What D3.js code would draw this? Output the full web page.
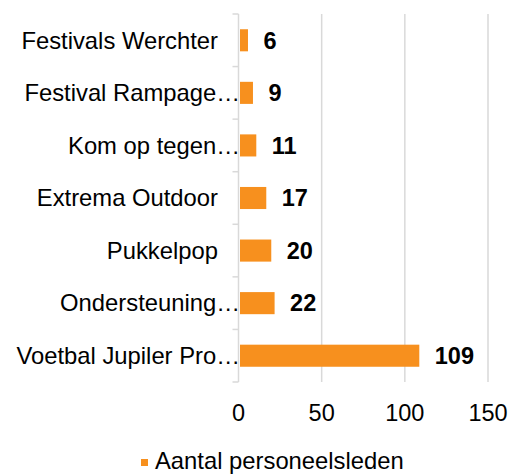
<!DOCTYPE html>
<html>
<head>
<meta charset="utf-8">
<script src="https://cdn.jsdelivr.net/npm/d3@7"></script>
<style>
  html, body { margin: 0; padding: 0; background: #fff; }
  text { font-family: "Liberation Sans", Arial, sans-serif; }
</style>
</head>
<body>
<script>
const categories = ["Festivals Werchter", "Festival Rampage…", "Kom op tegen…", "Extrema Outdoor", "Pukkelpop", "Ondersteuning…", "Voetbal Jupiler Pro…"];
const values = [6, 9, 11, 17, 20, 22, 109];
const xTicks = [0, 50, 100, 150];
const seriesName = "Aantal personeelsleden";

const W = 521, H = 475;
const color = "#F7901E";
const svg = d3.select("body").append("svg").attr("width", W).attr("height", H);

const x = d3.scaleLinear().domain([0, 150]).range([238.5, 488]);
const y = d3.scaleBand().domain(categories).range([14, 382]).paddingInner(0.58).paddingOuter(0.29);
const yb = d3.scaleBand().domain(categories).range([14, 382]);

// gridlines
svg.append("g").selectAll("line").data(xTicks.slice(1)).join("line")
  .attr("x1", d => x(d)).attr("x2", d => x(d))
  .attr("y1", 14).attr("y2", 382)
  .attr("stroke", "#d9d9d9").attr("stroke-width", 1.5);

// y axis line + ticks
svg.append("line").attr("x1", x(0)).attr("x2", x(0)).attr("y1", 14).attr("y2", 382)
  .attr("stroke", "#d9d9d9").attr("stroke-width", 1.5);
const bounds = categories.map(c => yb(c)).concat([382]);
svg.append("g").selectAll("line").data(bounds).join("line")
  .attr("x1", x(0) - 6).attr("x2", x(0))
  .attr("y1", d => d).attr("y2", d => d)
  .attr("stroke", "#d9d9d9").attr("stroke-width", 1.5);

// bars
svg.append("g").selectAll("rect").data(values).join("rect")
  .attr("x", x(0) + 1.5)
  .attr("y", (d, i) => y(categories[i]))
  .attr("width", d => Math.max(0, x(d) - x(0) - 2))
  .attr("height", y.bandwidth())
  .attr("fill", color);

// value labels
svg.append("g").selectAll("text").data(values).join("text")
  .attr("x", d => x(d) + 15)
  .attr("y", (d, i) => yb(categories[i]) + yb.bandwidth() / 2)
  .attr("dy", "0.35em")
  .attr("font-size", 23.5).attr("font-weight", "bold").attr("fill", "#000")
  .text(d => d);

// category labels
svg.append("g").selectAll("text").data(categories).join("text")
  .attr("x", d => d.endsWith("…") ? 240 : 218)
  .attr("y", d => yb(d) + yb.bandwidth() / 2)
  .attr("dy", "0.35em")
  .attr("text-anchor", "end")
  .attr("font-size", 23.8).attr("fill", "#000")
  .text(d => d);

// x tick labels
svg.append("g").selectAll("text").data(xTicks).join("text")
  .attr("x", d => x(d))
  .attr("y", 413)
  .attr("dy", "0.35em")
  .attr("text-anchor", "middle")
  .attr("font-size", 23.5).attr("fill", "#000")
  .text(d => d);

// legend
svg.append("rect").attr("x", 141).attr("y", 459).attr("width", 7).attr("height", 7).attr("fill", color);
svg.append("text").attr("x", 155).attr("y", 469).attr("font-size", 23.8).attr("fill", "#000").text(seriesName);
</script>
</body>
</html>
